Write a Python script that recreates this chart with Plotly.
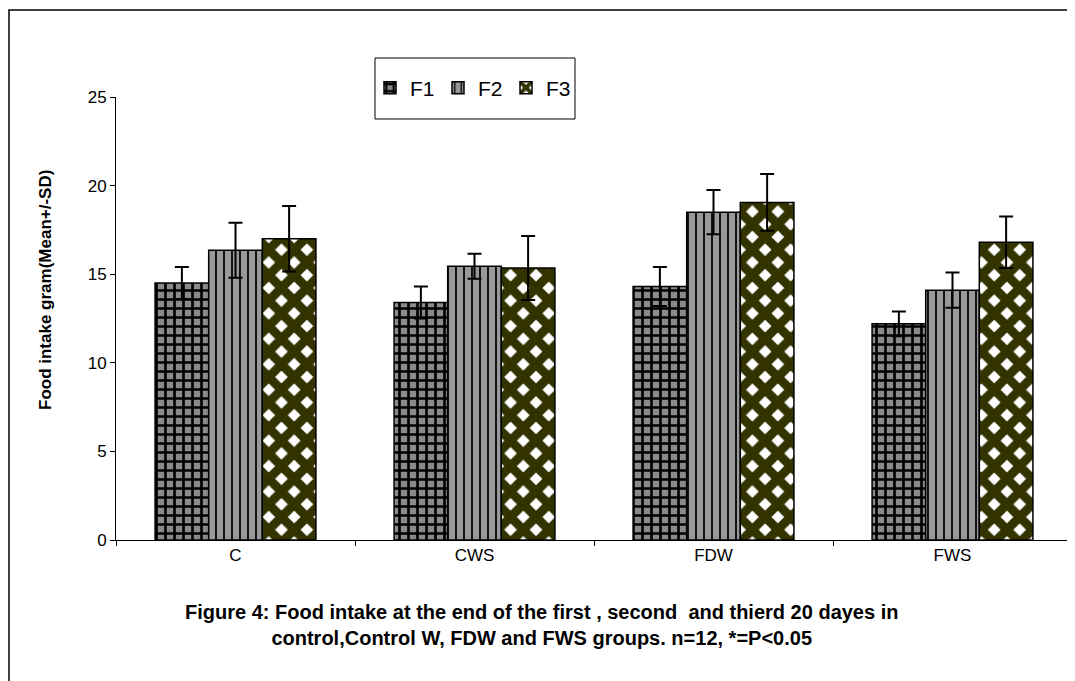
import plotly.graph_objects as go

categories = ["C", "CWS", "FDW", "FWS"]
series_names = ["F1", "F2", "F3"]
f1_mean = [14.5, 13.4, 14.3, 12.2]
f1_sd = [0.9, 0.9, 1.1, 0.7]
f2_mean = [16.35, 15.45, 18.5, 14.1]
f2_sd = [1.55, 0.7, 1.25, 1.0]
f3_mean = [17.0, 15.35, 19.05, 16.8]
f3_sd = [1.85, 1.8, 1.6, 1.45]
y_ticks = [0, 5, 10, 15, 20, 25]

means = [f1_mean, f2_mean, f3_mean]
sds = [f1_sd, f2_sd, f3_sd]
patterns = [
    dict(shape="+", fgcolor="black", bgcolor="#8a8a8a", size=9, solidity=0.5, fillmode="replace"),
    dict(shape="|", fgcolor="black", bgcolor="#999999", size=8, solidity=0.22, fillmode="replace"),
    dict(shape="x", fgcolor="#333300", bgcolor="white", size=18, solidity=0.75, fillmode="replace"),
]

fig = go.Figure()
for name, m, s, p in zip(series_names, means, sds, patterns):
    fig.add_trace(go.Bar(
        x=categories, y=m, name=name,
        marker=dict(color=p["bgcolor"], pattern=p, line=dict(color="black", width=1.5)),
        error_y=dict(type="data", array=s, visible=True, color="black", thickness=2, width=7),
    ))

FONT = "Liberation Sans, Arial, sans-serif"


def px(xp):
    return (xp - 116) / 956


def py(yp):
    return (540 - yp) / 443


fig.update_layout(
    width=1067, height=673,
    margin=dict(l=108, r=3, t=89, b=141),
    paper_bgcolor="white", plot_bgcolor="white",
    barmode="group", bargap=0.327, bargroupgap=0,
    font=dict(family=FONT, size=16, color="black"),
    showlegend=True,
    legend=dict(
        orientation="h", x=px(370), y=py(88), xanchor="left", yanchor="middle",
        borderwidth=0, bgcolor="rgba(0,0,0,0)",
        font=dict(size=21, family=FONT), itemwidth=30,
        entrywidth=23, entrywidthmode="pixels",
    ),
    xaxis=dict(
        showline=True, linecolor="black", linewidth=1,
        ticks="outside", ticklen=5, tickcolor="black", tickson="boundaries",
        tickfont=dict(size=17), showgrid=False,
    ),
    yaxis=dict(
        range=[0, 25], tickvals=y_ticks, showline=True, linecolor="black", linewidth=1,
        ticks="outside", ticklen=5, tickcolor="black", tickfont=dict(size=17),
        showgrid=False, zeroline=False,
    ),
    shapes=[
        dict(type="rect", xref="paper", yref="paper",
             x0=px(9), x1=1.2, y0=-0.5, y1=py(10),
             line=dict(color="black", width=1.5)),
        dict(type="rect", xref="paper", yref="paper",
             x0=px(375), x1=px(575), y0=py(119), y1=py(58),
             line=dict(color="black", width=1)),
    ],
    annotations=[
        dict(text="<b>Food intake gram(Mean+/-SD)</b>", xref="paper", yref="paper",
             x=px(45), y=py(290), textangle=-90, showarrow=False,
             font=dict(size=17), xanchor="center", yanchor="middle"),
        dict(text="<b>Figure 4: Food intake at the end of the first , second  and thierd 20 dayes in<br>"
                  "control,Control W, FDW and FWS groups. n=12, *=P<0.05</b>",
             xref="paper", yref="paper", x=px(541), y=py(625), showarrow=False,
             font=dict(size=20), xanchor="center", yanchor="middle", align="center"),
    ],
)

fig.write_html("out.html")
